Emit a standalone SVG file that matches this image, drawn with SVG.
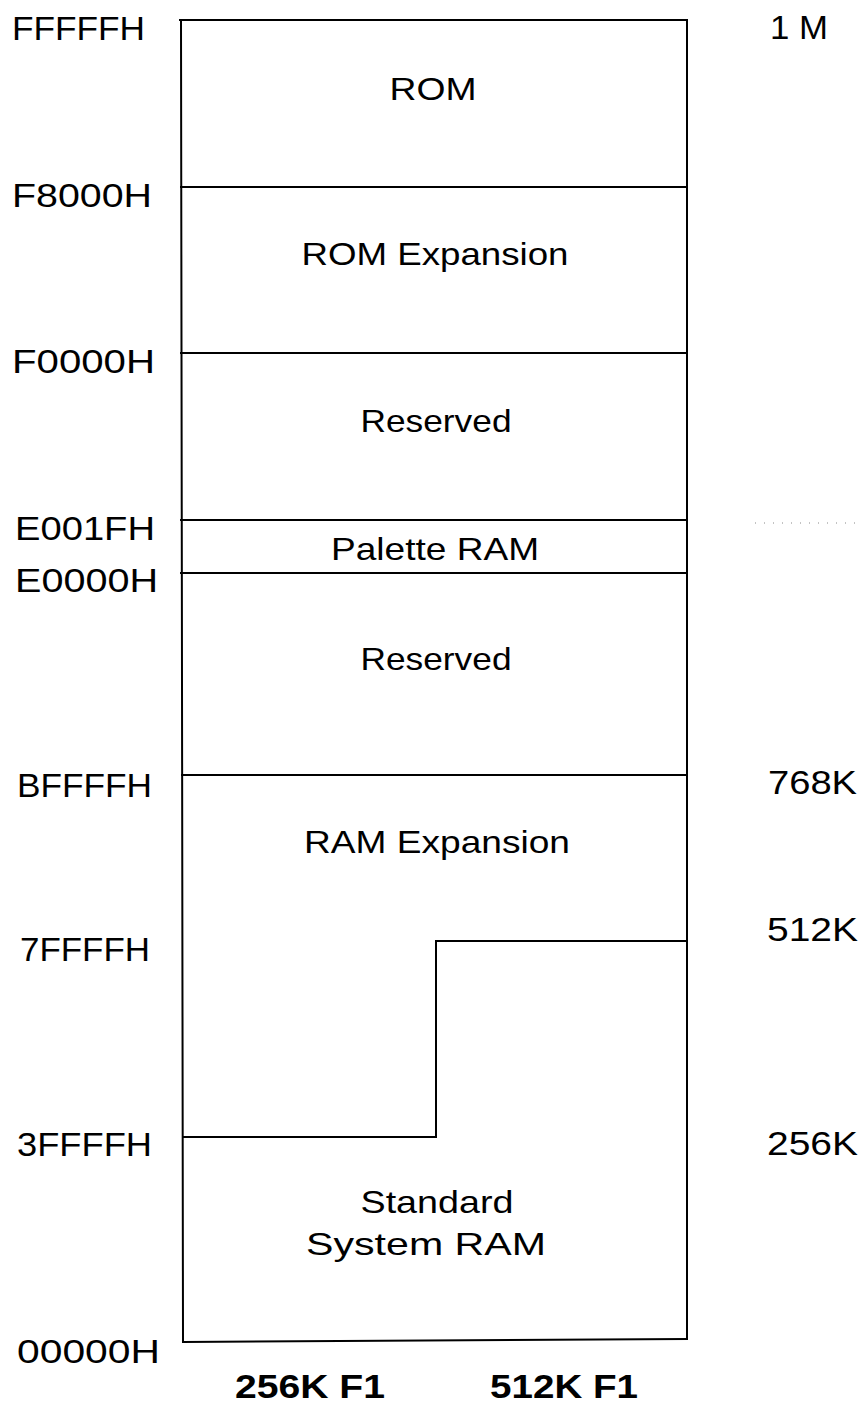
<svg xmlns="http://www.w3.org/2000/svg" width="866" height="1405" viewBox="0 0 866 1405">
<style>
.addr{font-family:"Liberation Sans",Arial,sans-serif;font-size:34px;fill:#000}
.size{font-family:"Liberation Sans",Arial,sans-serif;font-size:34px;fill:#000}
.lbl{font-family:"Liberation Sans",Arial,sans-serif;font-size:32px;fill:#000;text-anchor:middle}
.col{font-family:"Liberation Sans",Arial,sans-serif;font-size:34px;font-weight:bold;fill:#000}
.ln{stroke:#000;stroke-width:2;fill:none;stroke-linecap:square}
</style>
<rect width="866" height="1405" fill="#fff"/>
<g id="frame">
<line class="ln" x1="180" y1="20" x2="687" y2="20"/>
<line class="ln" x1="687" y1="20" x2="687" y2="1339"/>
<line class="ln" x1="181" y1="20" x2="183" y2="1342"/>
<line class="ln" x1="183" y1="1342" x2="687" y2="1339"/>
</g>
<g id="connectors">
<line class="ln" x1="181" y1="187" x2="687" y2="187"/>
<line class="ln" x1="181" y1="353" x2="687" y2="353"/>
<line class="ln" x1="181" y1="520" x2="687" y2="520"/>
<line class="ln" x1="181" y1="573" x2="687" y2="573"/>
<line class="ln" x1="182" y1="775" x2="687" y2="775"/>
<polyline class="ln" points="183,1137 436,1137 436,941 687,941"/>
<line x1="755" y1="523" x2="860" y2="523" stroke="#888" stroke-width="1" stroke-dasharray="1 8"/>
</g>
<g id="addresses">
<text class="addr" x="12" y="40" textLength="133" lengthAdjust="spacingAndGlyphs">FFFFFH</text>
<text class="addr" x="12" y="207" textLength="140" lengthAdjust="spacingAndGlyphs">F8000H</text>
<text class="addr" x="12" y="373" textLength="143" lengthAdjust="spacingAndGlyphs">F0000H</text>
<text class="addr" x="15" y="540" textLength="140" lengthAdjust="spacingAndGlyphs">E001FH</text>
<text class="addr" x="15" y="592" textLength="143" lengthAdjust="spacingAndGlyphs">E0000H</text>
<text class="addr" x="17" y="797" textLength="135" lengthAdjust="spacingAndGlyphs">BFFFFH</text>
<text class="addr" x="20" y="961" textLength="130" lengthAdjust="spacingAndGlyphs">7FFFFH</text>
<text class="addr" x="17" y="1156" textLength="135" lengthAdjust="spacingAndGlyphs">3FFFFH</text>
<text class="addr" x="17" y="1363" textLength="143" lengthAdjust="spacingAndGlyphs">00000H</text>
</g>
<g id="sizes">
<text class="size" x="770" y="39" textLength="58" lengthAdjust="spacingAndGlyphs">1 M</text>
<text class="size" x="768" y="794" textLength="89" lengthAdjust="spacingAndGlyphs">768K</text>
<text class="size" x="767" y="941" textLength="91" lengthAdjust="spacingAndGlyphs">512K</text>
<text class="size" x="767" y="1155" textLength="91" lengthAdjust="spacingAndGlyphs">256K</text>
</g>
<g id="node-rom"><text class="lbl" x="433" y="100" textLength="87" lengthAdjust="spacingAndGlyphs">ROM</text></g>
<g id="node-rom-expansion"><text class="lbl" x="435" y="265" textLength="267" lengthAdjust="spacingAndGlyphs">ROM Expansion</text></g>
<g id="node-reserved-1"><text class="lbl" x="436" y="432" textLength="151" lengthAdjust="spacingAndGlyphs">Reserved</text></g>
<g id="node-palette-ram"><text class="lbl" x="435" y="560" textLength="208" lengthAdjust="spacingAndGlyphs">Palette RAM</text></g>
<g id="node-reserved-2"><text class="lbl" x="436" y="670" textLength="151" lengthAdjust="spacingAndGlyphs">Reserved</text></g>
<g id="node-ram-expansion"><text class="lbl" x="437" y="853" textLength="266" lengthAdjust="spacingAndGlyphs">RAM Expansion</text></g>
<g id="node-standard-ram">
<text class="lbl" x="437" y="1213" textLength="153" lengthAdjust="spacingAndGlyphs">Standard</text>
<text class="lbl" x="426" y="1255" textLength="240" lengthAdjust="spacingAndGlyphs">System RAM</text>
</g>
<g id="columns">
<text class="col" x="235" y="1398" textLength="150" lengthAdjust="spacingAndGlyphs">256K F1</text>
<text class="col" x="490" y="1398" textLength="148" lengthAdjust="spacingAndGlyphs">512K F1</text>
</g>
</svg>
